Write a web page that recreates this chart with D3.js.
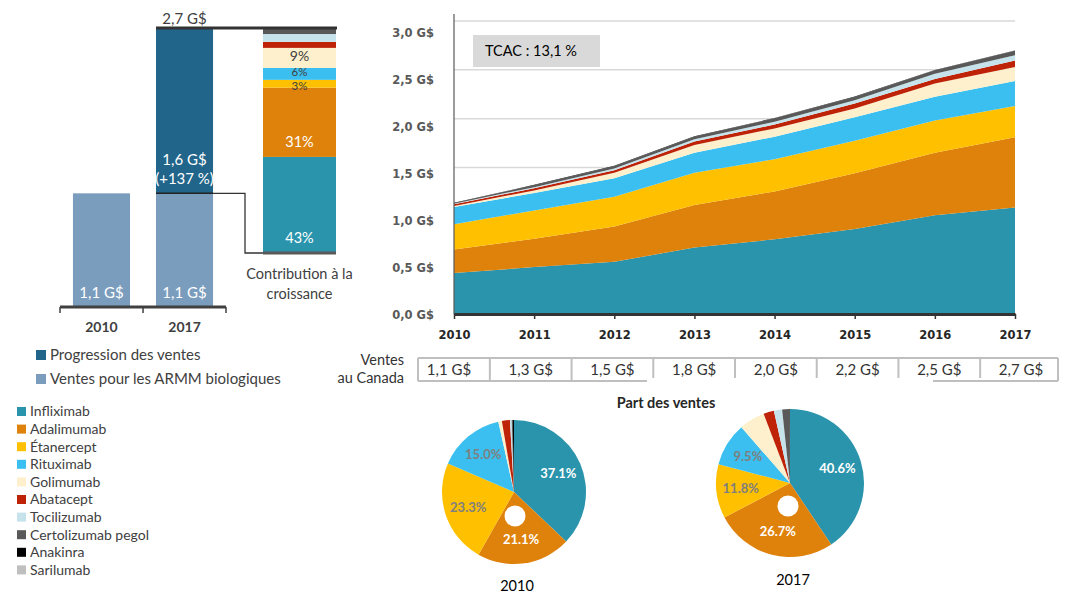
<!DOCTYPE html>
<html><head><meta charset="utf-8">
<script src="https://cdn.jsdelivr.net/npm/d3@7"></script>
<style>
body{margin:0;background:#fff;}
svg{display:block;font-family:Lato,"Open Sans",sans-serif;}
</style></head>
<body><svg id="c" width="1065" height="600"></svg>
<script>
// ---------- DATA ----------
const years = [2010, 2011, 2012, 2013, 2014, 2015, 2016, 2017];
const drugs = ["Infliximab","Adalimumab","Étanercept","Rituximab","Golimumab","Abatacept","Tocilizumab","Certolizumab pegol","Anakinra","Sarilumab"];
const drugColors = ["#2A94AC","#DF820B","#FFC000","#3BBFF0","#FEF0CC","#BE2207","#C6E3EB","#595959","#000000","#BFBFBF"];
// sales in G$ per year (stacked area)
const infliximab  = [0.42, 0.48, 0.535, 0.68, 0.765, 0.87, 1.01, 1.09];
const adalimumab  = [0.24, 0.29, 0.36, 0.435, 0.49, 0.57, 0.64, 0.72];
const etanercept  = [0.26, 0.29, 0.305, 0.33, 0.33, 0.335, 0.33, 0.32];
const rituximab   = [0.175, 0.18, 0.19, 0.205, 0.23, 0.24, 0.245, 0.255];
const golimumab   = [0.012, 0.025, 0.055, 0.08, 0.085, 0.09, 0.135, 0.145];
const abatacept   = [0.018, 0.022, 0.027, 0.035, 0.04, 0.05, 0.045, 0.065];
const tocilizumab = [0.005, 0.012, 0.017, 0.024, 0.028, 0.034, 0.055, 0.055];
const certolizumab= [0.004, 0.02, 0.025, 0.027, 0.035, 0.034, 0.035, 0.045];
const anakinra    = [0.004, 0.004, 0.004, 0.004, 0.004, 0.004, 0.004, 0.004];
const sarilumab   = [0, 0, 0, 0, 0, 0, 0, 0];
const yTicks = [0, 0.5, 1.0, 1.5, 2.0, 2.5, 3.0];
const cagrLabel = "TCAC : 13,1 %";
// sales table
const salesCanada = [1.1, 1.3, 1.5, 1.8, 2.0, 2.2, 2.5, 2.7];
// left bar chart
const barYears = ["2010", "2017"];
const baseSales = [1.1, 1.1];
const progression = [0, 1.6];
const progressionLabel = ["1,6 G$", "(+137 %)"];
const totalLabel = "2,7 G$";
// contribution to growth (%)
const contribution = [43, 31, 3.5, 5.3, 9, 2.7, 3.5, 2.7, 0, 0];
const contribLabels = ["43%", "31%", "3%", "6%", "9%", "", "", "", "", ""];
// pie shares (%)
const share2010 = [37.1, 21.1, 23.3, 15.0, 0.8, 1.8, 0.4, 0.2, 0.3, 0];
const share2017 = [40.6, 26.7, 11.8, 9.5, 5.6, 2.3, 1.8, 1.6, 0.1, 0];
const pieLabelsShown = [true, true, true, true, false, false, false, false, false, false];
const pieLabelWhite = [true, true, false, false];

// ---------- HELPERS ----------
const svg = d3.select("#c");
const fmtG = v => v.toFixed(1).replace(".", ",") + " G$";
const fmtP = v => v.toFixed(1) + "%";

// ---------- AREA CHART ----------
const x = d3.scaleLinear().domain([2010, 2017]).range([454, 1015]);
const y = d3.scaleLinear().domain([0, 3]).range([314, 21]);
const yLab = d3.scaleLinear().domain([0, 3]).range([315, 33]);

const allSeries = [infliximab, adalimumab, etanercept, rituximab, golimumab, abatacept, tocilizumab, certolizumab, anakinra, sarilumab];
const rows = years.map((yr, i) => {
  const r = {year: yr};
  drugs.forEach((d, k) => r[d] = allSeries[k][i]);
  return r;
});
const stack = d3.stack().keys(drugs)(rows);

svg.append("g").selectAll("line").data(yTicks.filter(t => t > 0)).join("line")
  .attr("x1", x(2010)).attr("x2", x(2017))
  .attr("y1", d => y(d)).attr("y2", d => y(d))
  .attr("stroke", "#d9d9d9").attr("stroke-width", 1.5);

const area = d3.area().x(d => x(d.data.year)).y0(d => y(d[0])).y1(d => y(d[1]));
svg.append("g").selectAll("path").data(stack).join("path")
  .attr("d", area).attr("fill", (d, i) => drugColors[i]);

svg.append("line").attr("x1", x(2010)).attr("x2", x(2010)).attr("y1", 14).attr("y2", y(0))
  .attr("stroke", "#595959").attr("stroke-width", 1.2);

const yAx = svg.append("g").attr("transform", "translate(434,0)")
  .call(d3.axisLeft(yLab).tickValues(yTicks).tickSize(0).tickPadding(0).tickFormat(fmtG));
yAx.select(".domain").remove();
yAx.selectAll("text").attr("font-family", "DejaVu Sans").attr("font-weight", "bold")
  .attr("font-size", 11.5).attr("fill", "#595959");

const xAx = svg.append("g").attr("transform", `translate(0,${y(0)})`)
  .call(d3.axisBottom(x).tickValues(years).tickFormat(d3.format("d")).tickSize(5).tickSizeOuter(0).tickPadding(12));
xAx.select(".domain").attr("stroke", "#333").attr("stroke-width", 3);
xAx.selectAll(".tick line").attr("stroke", "#333").attr("stroke-width", 1.5);
xAx.selectAll("text").attr("font-family", "DejaVu Sans").attr("font-weight", "bold")
  .attr("font-size", 11.5).attr("fill", "#262626");

svg.append("rect").attr("x", 473).attr("y", 35).attr("width", 127).attr("height", 32).attr("fill", "#d9d9d9");
svg.append("text").attr("x", 485).attr("y", 56).attr("font-size", 14.5).attr("fill", "#000").text(cagrLabel);

// ---------- SALES TABLE ----------
const tx = d3.scalePoint().domain(years).range([449, 1021]);
const step = tx.step();
const tTop = 358, tBot = 381, tLeft = 418, tRight = 1058;
const tg = svg.append("g").attr("stroke", "#bfbfbf").attr("stroke-width", 2);
tg.append("line").attr("x1", tLeft).attr("x2", tRight).attr("y1", tTop).attr("y2", tTop);
tg.append("line").attr("x1", tLeft).attr("x2", tLeft).attr("y1", tTop).attr("y2", tBot);
tg.append("line").attr("x1", tRight).attr("x2", tRight).attr("y1", tTop).attr("y2", tBot);
tg.append("line").attr("x1", tLeft).attr("x2", 647).attr("y1", tBot).attr("y2", tBot);
tg.append("line").attr("x1", 933).attr("x2", tRight).attr("y1", tBot).attr("y2", tBot);
tg.selectAll(".sep").data(years.slice(1)).join("line").attr("class", "sep")
  .attr("x1", d => tx(d) - step / 2).attr("x2", d => tx(d) - step / 2)
  .attr("y1", tTop).attr("y2", (d, i) => i < 2 ? tBot : 378);
svg.append("g").selectAll("text").data(salesCanada).join("text")
  .attr("x", (d, i) => tx(years[i])).attr("y", 375).attr("text-anchor", "middle")
  .attr("font-size", 15).attr("fill", "#333").text(fmtG);
svg.append("text").attr("x", 404).attr("y", 365).attr("text-anchor", "end").attr("font-size", 14.5).attr("fill", "#333").text("Ventes");
svg.append("text").attr("x", 404).attr("y", 383).attr("text-anchor", "end").attr("font-size", 14.5).attr("fill", "#333").text("au Canada");

// ---------- PIES ----------
svg.append("text").attr("x", 666).attr("y", 408).attr("text-anchor", "middle")
  .attr("font-size", 14.5).attr("font-weight", "bold").attr("fill", "#262626").text("Part des ventes");

function drawPie(shares, cx, cy, r, hole, label, labelY) {
  const g = svg.append("g").attr("transform", `translate(${cx},${cy})`);
  const arcs = d3.pie().sort(null).value(d => d)(shares);
  const arc = d3.arc().innerRadius(0).outerRadius(r);
  const lab = d3.arc().innerRadius(r * 0.67).outerRadius(r * 0.67);
  g.selectAll("path").data(arcs).join("path").attr("d", arc).attr("fill", (d, i) => drugColors[i]);
  g.selectAll("text").data(arcs.filter((d, i) => pieLabelsShown[i])).join("text")
    .attr("transform", d => `translate(${lab.centroid(d)})`)
    .attr("text-anchor", "middle").attr("dy", "0.35em")
    .attr("font-size", 13).attr("font-weight", "bold")
    .attr("fill", (d) => pieLabelWhite[d.index] ? "#fff" : "#7f7f7f")
    .text(d => fmtP(d.data));
  g.append("circle").attr("cx", hole[0]).attr("cy", hole[1]).attr("r", 10.5).attr("fill", "#fff");
  svg.append("text").attr("x", cx + 3).attr("y", labelY).attr("text-anchor", "middle")
    .attr("font-size", 14.5).attr("fill", "#000").text(label);
}
drawPie(share2010, 514, 492, 72, [1, 24], "2010", 591);
drawPie(share2017, 790, 483, 74, [-2, 23], "2017", 585);

// ---------- LEFT BAR CHART ----------
const xL = d3.scaleBand().domain(barYears).range([60, 226]).paddingInner(0.313).paddingOuter(0.156);
const yL = d3.scaleLinear().domain([0, 2.7]).range([307, 28]);
const lightBar = "#7A9CBD", darkBar = "#22658A";

svg.append("g").selectAll("rect").data(baseSales).join("rect")
  .attr("x", (d, i) => xL(barYears[i])).attr("width", xL.bandwidth())
  .attr("y", d => yL(d)).attr("height", d => yL(0) - yL(d)).attr("fill", lightBar);
svg.append("g").selectAll("rect").data(progression).join("rect")
  .attr("x", (d, i) => xL(barYears[i])).attr("width", xL.bandwidth())
  .attr("y", (d, i) => yL(baseSales[i] + d)).attr("height", (d, i) => yL(baseSales[i]) - yL(baseSales[i] + d))
  .attr("fill", darkBar);
svg.append("g").selectAll("text").data(baseSales).join("text")
  .attr("x", (d, i) => xL(barYears[i]) + xL.bandwidth() / 2).attr("y", 298)
  .attr("text-anchor", "middle").attr("font-size", 15).attr("fill", "#fff").text(fmtG);
const cx17 = xL("2017") + xL.bandwidth() / 2;
svg.append("g").selectAll("text").data(progressionLabel).join("text")
  .attr("x", cx17).attr("y", (d, i) => 165 + i * 19).attr("text-anchor", "middle")
  .attr("font-size", 15).attr("fill", "#fff").text(d => d);
svg.append("text").attr("x", cx17).attr("y", 24).attr("text-anchor", "middle")
  .attr("font-size", 15).attr("fill", "#404040").text(totalLabel);

const axL = svg.append("g").attr("stroke", "#404040");
axL.append("line").attr("x1", 60).attr("x2", 226).attr("y1", yL(0)).attr("y2", yL(0)).attr("stroke-width", 3);
axL.selectAll(".tk").data([60, 60 + xL.step(), 226]).join("line").attr("class", "tk")
  .attr("x1", d => d).attr("x2", d => d).attr("y1", yL(0)).attr("y2", yL(0) + 6).attr("stroke-width", 1.5);
svg.append("g").selectAll("text").data(barYears).join("text")
  .attr("x", d => xL(d) + xL.bandwidth() / 2).attr("y", 332).attr("text-anchor", "middle")
  .attr("font-size", 14).attr("font-weight", "bold").attr("fill", "#404040").text(d => d);

// contribution bar
const cX0 = 263, cX1 = 336;
const contribSum = d3.sum(contribution);
const yC = d3.scaleLinear().domain([0, contribSum]).range([253, 28]);
let acc = 0;
const segs = contribution.map((v, i) => { const s = {i, y0: acc, y1: acc + v}; acc += v; return s; });
svg.append("g").selectAll("rect").data(segs).join("rect")
  .attr("x", cX0).attr("width", cX1 - cX0)
  .attr("y", d => yC(d.y1)).attr("height", d => yC(d.y0) - yC(d.y1))
  .attr("fill", d => drugColors[d.i]);
const nudge = {2: 2, 3: -2, 4: -2};
svg.append("g").selectAll("text").data(segs.filter(d => contribLabels[d.i])).join("text")
  .attr("x", (cX0 + cX1) / 2)
  .attr("y", d => ((yC(d.y0) - yC(d.y1) > 40) ? yC(d.y0) - 15 : (yC(d.y0) + yC(d.y1)) / 2) + (nudge[d.i] || 0))
  .attr("dy", "0.35em").attr("text-anchor", "middle")
  .attr("font-size", d => d.i < 2 ? 14.5 : (d.i === 4 ? 14 : 11.5))
  .attr("fill", d => d.i < 2 ? "#fff" : "#404040").text(d => contribLabels[d.i]);
svg.append("text").attr("x", (cX0 + cX1) / 2).attr("y", 279).attr("text-anchor", "middle")
  .attr("font-size", 14.5).attr("fill", "#404040").text("Contribution à la");
svg.append("text").attr("x", (cX0 + cX1) / 2).attr("y", 299).attr("text-anchor", "middle")
  .attr("font-size", 14.5).attr("fill", "#404040").text("croissance");

// connector lines
svg.append("line").attr("x1", xL("2017")).attr("x2", xL("2017") + xL.bandwidth())
  .attr("y1", yL(1.1)).attr("y2", yL(1.1)).attr("stroke", "#222").attr("stroke-width", 1.5);
svg.append("path").attr("d", `M${xL("2017") + xL.bandwidth()},${yL(1.1)}H245V${yC(0)}H${cX0}`)
  .attr("fill", "none").attr("stroke", "#333").attr("stroke-width", 1.3);
svg.append("line").attr("x1", xL("2017")).attr("x2", cX1 + 1).attr("y1", yL(2.7)).attr("y2", yL(2.7))
  .attr("stroke", "#333").attr("stroke-width", 3);
svg.append("line").attr("x1", cX0).attr("x2", cX1).attr("y1", yC(0)).attr("y2", yC(0))
  .attr("stroke", "#595959").attr("stroke-width", 3);

// ---------- LEGENDS ----------
const legTop = [["Progression des ventes", darkBar], ["Ventes pour les ARMM biologiques", lightBar]];
const lt = svg.append("g").selectAll("g").data(legTop).join("g")
  .attr("transform", (d, i) => `translate(36,${350 + i * 24})`);
lt.append("rect").attr("width", 10).attr("height", 10).attr("fill", d => d[1]);
lt.append("text").attr("x", 14).attr("y", 5).attr("dy", "0.35em").attr("font-size", 15)
  .attr("fill", "#404040").text(d => d[0]);

const ld = svg.append("g").selectAll("g").data(drugs).join("g")
  .attr("transform", (d, i) => `translate(17,${407 + i * 17.6})`);
ld.append("rect").attr("width", 9).attr("height", 9).attr("fill", (d, i) => drugColors[i]);
ld.append("text").attr("x", 13).attr("y", 4.5).attr("dy", "0.35em").attr("font-size", 14)
  .attr("fill", "#404040").text(d => d);
</script></body></html>
